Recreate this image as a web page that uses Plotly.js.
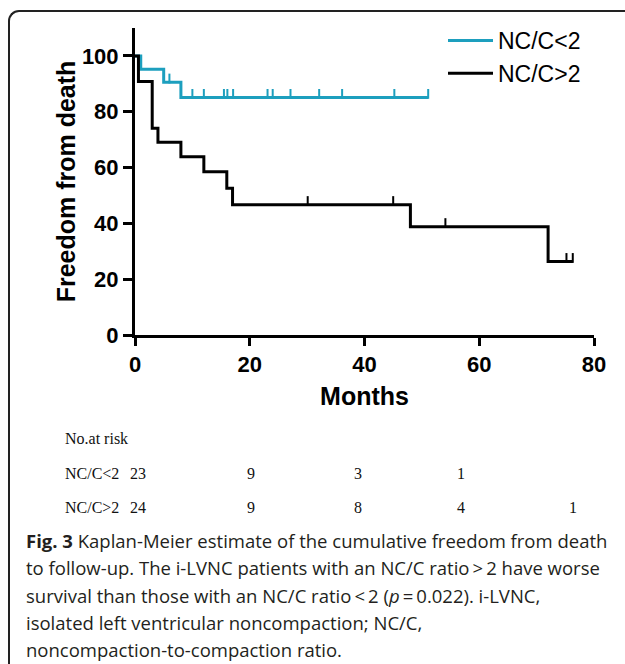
<!DOCTYPE html>
<html>
<head>
<meta charset="utf-8">
<script src="https://cdn.plot.ly/plotly-3.0.1.min.js"></script>
<style>
  html, body { margin:0; padding:0; background:#fff; }
  #wrap { position:relative; width:625px; height:664px; overflow:hidden; }
  #chart { position:absolute; left:0; top:0; width:625px; height:664px; }
  #frame { position:absolute; left:8px; top:10px; width:640px; height:680px;
           border-left:2px solid #222; border-top:2px solid #222;
           border-top-left-radius:11px; pointer-events:none; }
</style>
</head>
<body>
<div id="wrap">
  <div id="chart"></div>
  <div id="frame"></div>
</div>
<script>
// ---- Data ----
const lowTimes   = [0, 1, 5, 8, 51.1];
const lowSurv    = [100, 95.2, 90.6, 85.1, 85.1];
const lowCensT   = [6, 10, 12, 15.5, 16.1, 17.1, 23.1, 24, 27.1, 32.1, 36.1, 45.2, 51.1];
const lowCensS   = [90.6, 85.1, 85.1, 85.1, 85.1, 85.1, 85.1, 85.1, 85.1, 85.1, 85.1, 85.1, 85.1];

const highTimes  = [0, 0.6, 3, 4, 8, 12, 16, 17, 48, 72, 76.3];
const highSurv   = [100, 90.8, 74.1, 69.1, 63.9, 58.5, 52.6, 46.7, 38.8, 26.3, 26.3];
const highCensT  = [30.1, 45.0, 54.1, 75.2, 76.3];
const highCensS  = [46.7, 46.7, 38.8, 26.3, 26.3];

const seriesNames = ['NC/C<2', 'NC/C>2'];
const riskTimes   = [0, 20, 40, 60, 80];
const riskLow     = ['23', '9', '3', '1', ''];
const riskHigh    = ['24', '9', '8', '4', '1'];
const xTicks = [0, 20, 40, 60, 80];
const yTicks = [0, 20, 40, 60, 80, 100];

const captionLines = [
  '<b>Fig. 3</b> Kaplan-Meier estimate of the cumulative freedom from death',
  'to follow-up. The i-LVNC patients with an NC/C ratio\u2009>\u20092 have worse',
  'survival than those with an NC/C ratio\u2009<\u20092 (<i>p</i>\u2009=\u20090.022). i-LVNC,',
  'isolated left ventricular noncompaction; NC/C,',
  'noncompaction-to-compaction ratio.'
];

// ---- Styling ----
const CYAN = '#1d9fbe';
const BLACK = '#000000';
const L = 135, R = 31, T = 28, B = 329;
const PW = 625 - L - R, PH = 664 - T - B;
const px = x => (x - L) / PW;
const py = y => (664 - B - y) / PH;
const tickUp = 1.3;

const traces = [
  { x: lowTimes, y: lowSurv, name: seriesNames[0], type: 'scatter', mode: 'lines',
    line: { color: CYAN, width: 3, shape: 'hv' }, cliponaxis: false },
  { x: lowCensT, y: lowCensS.map(v => v + tickUp), type: 'scatter', mode: 'markers',
    showlegend: false, hoverinfo: 'skip', cliponaxis: false,
    marker: { symbol: 'line-ns-open', size: 7, color: CYAN, line: { color: CYAN, width: 2 } } },
  { x: highTimes, y: highSurv, name: seriesNames[1], type: 'scatter', mode: 'lines',
    line: { color: BLACK, width: 3, shape: 'hv' }, cliponaxis: false },
  { x: highCensT, y: highCensS.map(v => v + tickUp), type: 'scatter', mode: 'markers',
    showlegend: false, hoverinfo: 'skip', cliponaxis: false,
    marker: { symbol: 'line-ns-open', size: 7, color: BLACK, line: { color: BLACK, width: 2 } } }
];

const annotations = [];
const serif = { family: 'Liberation Serif, Times New Roman, serif', size: 16, color: '#111' };
annotations.push({ xref: 'paper', yref: 'paper', x: px(63), y: py(438), xanchor: 'left', yanchor: 'middle',
  text: 'No.at risk', showarrow: false, font: serif });
const rowY = [473, 507];
[[seriesNames[0], riskLow], [seriesNames[1], riskHigh]].forEach((row, i) => {
  annotations.push({ xref: 'paper', yref: 'paper', x: px(63), y: py(rowY[i]), xanchor: 'left', yanchor: 'middle',
    text: row[0].replace('<', '&lt;').replace('>', '&gt;'), showarrow: false, font: serif });
  const colX = [138, 251, 358, 461, 573];
  row[1].forEach((v, j) => {
    if (v === '') return;
    annotations.push({ xref: 'paper', yref: 'paper', x: px(colX[j]), y: py(rowY[i]), xanchor: 'center', yanchor: 'middle',
      text: v, showarrow: false, font: serif });
  });
});
const capY = [540, 567, 595, 622, 649];
captionLines.forEach((t, i) => {
  annotations.push({ xref: 'paper', yref: 'paper', x: px(24), y: py(capY[i]), xanchor: 'left', yanchor: 'middle',
    text: t, showarrow: false, align: 'left',
    font: { family: 'Open Sans, Noto Sans, sans-serif', size: 18.5, color: '#231f20' } });
});

const boldFont = { family: 'Liberation Sans, Arial, sans-serif', size: 22, color: '#000', weight: 'bold' };

const layout = {
  width: 625, height: 664,
  margin: { l: L, r: R, t: T, b: B, pad: 0 },
  paper_bgcolor: '#fff', plot_bgcolor: '#fff',
  showlegend: true,
  legend: { x: px(443), y: py(19), xanchor: 'left', yanchor: 'top', bgcolor: 'rgba(0,0,0,0)',
    itemwidth: 45, tracegroupgap: 0,
    font: { family: 'Liberation Sans, Arial, sans-serif', size: 23, color: '#000' } },
  xaxis: {
    range: [0, 80], tickvals: xTicks, ticktext: xTicks.map(String),
    showline: true, linecolor: '#000', linewidth: 3, mirror: false,
    ticks: 'outside', ticklen: 8, tickwidth: 3, tickcolor: '#000',
    showgrid: false, zeroline: false, tickfont: boldFont,
    title: { text: 'Months', font: { family: 'Liberation Sans, Arial, sans-serif', size: 25, color: '#000', weight: 'bold' }, standoff: 12 }
  },
  yaxis: {
    range: [0, 110], tickvals: yTicks, ticktext: yTicks.map(String),
    showline: true, linecolor: '#000', linewidth: 3,
    ticks: 'outside', ticklen: 9, tickwidth: 3, tickcolor: '#000',
    showgrid: false, zeroline: false, tickfont: boldFont,
    title: { text: 'Freedom from death', font: { family: 'Liberation Sans, Arial, sans-serif', size: 25, color: '#000', weight: 'bold' }, standoff: 0 }
  },
  annotations: annotations
};

Plotly.newPlot('chart', traces, layout, { staticPlot: true, displayModeBar: false });
</script>
</body>
</html>
